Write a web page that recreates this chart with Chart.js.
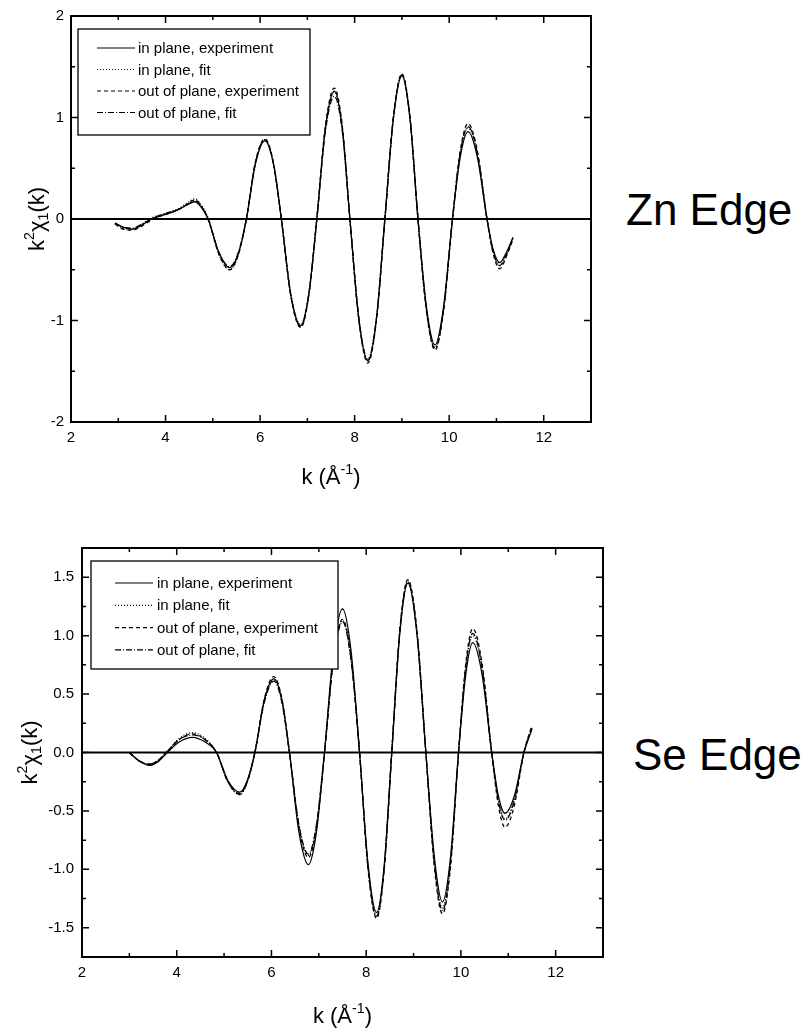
<!DOCTYPE html>
<html>
<head>
<meta charset="utf-8">
<script src="https://cdn.jsdelivr.net/npm/chart.js@4.4.0/dist/chart.umd.min.js"></script>
<style>
    body { margin: 0; background: #fff; width: 811px; height: 1030px; position: relative; overflow: hidden; font-family: "Liberation Sans", Arial, sans-serif; }
    .caixa { position: absolute; }
    .borda { position: absolute; font-size: 44px; line-height: 44px; color: #000; white-space: nowrap; }
</style>
</head>
<body>
<div class="caixa" style="left:0;top:0;width:600px;height:500px"><canvas id="grafico-zn"></canvas></div>
<div class="caixa" style="left:0;top:520px;width:620px;height:510px"><canvas id="grafico-se"></canvas></div>
<div class="borda" style="left:626px;top:188px">Zn Edge</div>
<div class="borda" style="left:633px;top:733px">Se Edge</div>

<script>
// legenda
const rotulos = ['in plane, experiment', 'in plane, fit', 'out of plane, experiment', 'out of plane, fit'];

// eixo x (comum)
const xTicks = [2, 4, 6, 8, 10, 12];
const xMenores = [3, 5, 7, 9, 11];

// Zn edge
const kZn = [2.93, 3.1, 3.3, 3.5, 3.7, 3.9, 4.1, 4.3, 4.5, 4.62, 4.75, 4.9, 5.13, 5.36, 5.54, 5.71, 5.9, 6.1, 6.28, 6.45,
    6.65, 6.86, 7.03, 7.2, 7.38, 7.57, 7.74, 7.9, 8.09, 8.28, 8.46, 8.64, 8.82, 9.0, 9.17, 9.34, 9.52, 9.7, 9.88, 10.07,
    10.23, 10.4, 10.6, 10.8, 10.93, 11.07, 11.2, 11.35];
const znInExp = [-0.04, -0.08, -0.10, -0.06, 0.00, 0.03, 0.06, 0.10, 0.15, 0.17, 0.12, 0.00, -0.33, -0.48, -0.34, 0.00, 0.54, 0.77, 0.55, 0.00,
    -0.75, -1.05, -0.74, 0.00, 0.89, 1.26, 0.89, 0.00, -0.99, -1.40, -0.99, 0.00, 0.99, 1.41, 0.99, 0.00, -0.87, -1.24, -0.87, 0.00,
    0.60, 0.86, 0.60, 0.00, -0.30, -0.43, -0.34, -0.18];
const znInFit = [-0.05, -0.09, -0.10, -0.05, 0.01, 0.04, 0.07, 0.11, 0.17, 0.20, 0.14, 0.01, -0.35, -0.50, -0.35, 0.00, 0.55, 0.78, 0.55, 0.00,
    -0.74, -1.04, -0.73, 0.00, 0.88, 1.25, 0.88, 0.00, -0.98, -1.38, -0.98, 0.00, 1.00, 1.42, 1.00, 0.00, -0.89, -1.27, -0.89, 0.00,
    0.63, 0.90, 0.63, 0.00, -0.32, -0.46, -0.36, -0.19];
const znOutExp = [-0.05, -0.10, -0.11, -0.07, -0.01, 0.03, 0.06, 0.10, 0.16, 0.19, 0.13, 0.00, -0.35, -0.50, -0.35, 0.00, 0.56, 0.79, 0.56, 0.00,
    -0.76, -1.07, -0.75, 0.00, 0.91, 1.29, 0.91, 0.00, -1.00, -1.42, -1.00, 0.00, 1.01, 1.43, 1.01, 0.00, -0.91, -1.29, -0.91, 0.00,
    0.66, 0.94, 0.66, 0.00, -0.34, -0.49, -0.38, -0.20];
const znOutFit = [-0.04, -0.08, -0.09, -0.05, 0.00, 0.04, 0.07, 0.10, 0.15, 0.18, 0.13, 0.00, -0.33, -0.47, -0.33, 0.00, 0.55, 0.78, 0.55, 0.00,
    -0.75, -1.06, -0.75, 0.00, 0.86, 1.21, 0.86, 0.00, -0.98, -1.39, -0.98, 0.00, 1.00, 1.42, 1.00, 0.00, -0.90, -1.27, -0.90, 0.00,
    0.64, 0.91, 0.64, 0.00, -0.32, -0.46, -0.36, -0.19];
const znYTicks = [-2, -1, 0, 1, 2];
const znYRotulos = ['-2', '-1', '0', '1', '2'];
const znYMenores = [-1.5, -0.5, 0.5, 1.5];

// Se edge
const kSe = [3.0, 3.2, 3.42, 3.6, 3.8, 4.05, 4.33, 4.6, 4.84, 5.08, 5.33, 5.49, 5.65, 5.85, 6.05, 6.22, 6.38, 6.58, 6.78, 6.95,
    7.12, 7.31, 7.5, 7.68, 7.86, 8.04, 8.22, 8.38, 8.54, 8.71, 8.88, 9.07, 9.26, 9.44, 9.61, 9.78, 9.95, 10.1, 10.25, 10.45,
    10.65, 10.79, 10.93, 11.13, 11.33, 11.5];
const seInExp = [0.00, -0.07, -0.11, -0.08, 0.00, 0.09, 0.13, 0.09, 0.00, -0.24, -0.34, -0.24, 0.00, 0.45, 0.63, 0.45, 0.00, -0.68, -0.96, -0.68,
    0.00, 0.87, 1.23, 0.87, 0.00, -0.96, -1.37, -0.97, 0.00, 1.02, 1.45, 1.02, 0.00, -0.90, -1.28, -0.90, 0.00, 0.66, 0.94, 0.66,
    0.00, -0.37, -0.52, -0.37, 0.00, 0.20];
const seInFit = [0.00, -0.07, -0.10, -0.07, 0.01, 0.12, 0.17, 0.12, 0.00, -0.25, -0.36, -0.25, 0.00, 0.44, 0.62, 0.44, 0.00, -0.62, -0.88, -0.62,
    0.00, 0.80, 1.13, 0.80, 0.00, -0.99, -1.40, -0.99, 0.00, 1.04, 1.47, 1.04, 0.00, -0.94, -1.33, -0.94, 0.00, 0.71, 1.00, 0.71,
    0.00, -0.40, -0.57, -0.40, 0.00, 0.22];
const seOutExp = [0.00, -0.07, -0.10, -0.07, 0.01, 0.11, 0.16, 0.11, 0.00, -0.25, -0.35, -0.25, 0.00, 0.46, 0.65, 0.46, 0.00, -0.64, -0.90, -0.64,
    0.00, 0.81, 1.14, 0.81, 0.00, -1.00, -1.42, -1.00, 0.00, 1.05, 1.48, 1.05, 0.00, -0.98, -1.38, -0.98, 0.00, 0.75, 1.06, 0.75,
    0.00, -0.45, -0.64, -0.45, 0.00, 0.23];
const seOutFit = [0.00, -0.07, -0.10, -0.07, 0.01, 0.11, 0.15, 0.11, 0.00, -0.25, -0.36, -0.25, 0.00, 0.43, 0.61, 0.43, 0.00, -0.62, -0.87, -0.62,
    0.00, 0.79, 1.12, 0.79, 0.00, -0.99, -1.40, -0.99, 0.00, 1.03, 1.46, 1.03, 0.00, -0.95, -1.35, -0.95, 0.00, 0.72, 1.02, 0.72,
    0.00, -0.41, -0.58, -0.41, 0.00, 0.21];
const seYTicks = [-1.5, -1.0, -0.5, 0, 0.5, 1.0, 1.5];
const seYRotulos = ['-1.5', '-1.0', '-0.5', '0.0', '0.5', '1.0', '1.5'];
const seYMenores = [-1.25, -0.75, -0.25, 0.25, 0.75, 1.25];


const fonte = '"Liberation Sans", Arial, sans-serif';
const tracos = [[], [1, 2], [4, 3], [6, 2, 1, 2]];

function montarSeries(k, series) {
    return series.map(function (ys, i) {
        return {
            label: rotulos[i],
            data: k.map(function (x, j) { return { x: x, y: ys[j] }; }),
            borderColor: '#000',
            borderWidth: 1.3,
            borderDash: tracos[i],
            pointRadius: 0,
            cubicInterpolationMode: 'monotone',
            fill: false
        };
    });
}

// texto com sobrescrito / subscrito
function textoRico(ctx, partes, tamanho, x, y, rot) {
    ctx.save();
    ctx.translate(x, y);
    ctx.rotate(rot);
    ctx.fillStyle = '#000';
    ctx.textBaseline = 'alphabetic';
    var total = 0;
    partes.forEach(function (p) {
        ctx.font = (tamanho * p.e) + 'px ' + fonte;
        total += ctx.measureText(p.t).width;
    });
    var pos = -total / 2;
    partes.forEach(function (p) {
        ctx.font = (tamanho * p.e) + 'px ' + fonte;
        ctx.fillText(p.t, pos, tamanho * 0.35 + p.dy * tamanho);
        pos += ctx.measureText(p.t).width;
    });
    ctx.restore();
}

const tituloX = [{ t: 'k ', e: 1, dy: 0 }, { t: '(Å', e: 1, dy: 0 }, { t: '-1', e: 0.65, dy: -0.42 }, { t: ')', e: 1, dy: 0 }];
const tituloY = [{ t: 'k', e: 1, dy: 0 }, { t: '2', e: 0.65, dy: -0.42 }, { t: 'χ', e: 1, dy: 0 }, { t: '1', e: 0.65, dy: 0.2 }, { t: '(k)', e: 1, dy: 0 }];

const moldura = {
    id: 'moldura',
    beforeDatasetsDraw(chart) {
        const ctx = chart.ctx, a = chart.chartArea;
        const y0 = chart.scales.y.getPixelForValue(0);
        ctx.save();
        ctx.strokeStyle = '#000';
        ctx.lineWidth = 2;
        ctx.beginPath();
        ctx.moveTo(a.left, y0);
        ctx.lineTo(a.right, y0);
        ctx.stroke();
        ctx.restore();
    },
    afterDatasetsDraw(chart, args, op) {
        const ctx = chart.ctx, a = chart.chartArea;
        const sx = chart.scales.x, sy = chart.scales.y;
        ctx.save();
        ctx.strokeStyle = '#000';

        // ticks para dentro nos 4 lados
        ctx.lineWidth = 1.5;
        ctx.beginPath();
        function tickX(v, len) {
            const px = sx.getPixelForValue(v);
            ctx.moveTo(px, a.bottom); ctx.lineTo(px, a.bottom - len);
            ctx.moveTo(px, a.top); ctx.lineTo(px, a.top + len);
        }
        function tickY(v, len) {
            const py = sy.getPixelForValue(v);
            ctx.moveTo(a.left, py); ctx.lineTo(a.left + len, py);
            ctx.moveTo(a.right, py); ctx.lineTo(a.right - len, py);
        }
        xTicks.forEach(function (v) { tickX(v, 7); });
        xMenores.forEach(function (v) { tickX(v, 4); });
        op.yTicks.forEach(function (v) { tickY(v, 7); });
        op.yMenores.forEach(function (v) { tickY(v, 4); });
        ctx.stroke();

        // moldura
        ctx.lineWidth = 2;
        ctx.strokeRect(a.left, a.top, a.right - a.left, a.bottom - a.top);

        // legenda
        const L = op.legenda;
        const bx = a.left + L.dx, by = a.top + L.dy;
        ctx.fillStyle = '#fff';
        ctx.fillRect(bx, by, L.w, L.h);
        ctx.lineWidth = 1.3;
        ctx.strokeRect(bx, by, L.w, L.h);
        ctx.font = '15px ' + fonte;
        ctx.textBaseline = 'middle';
        ctx.fillStyle = '#000';
        chart.data.datasets.forEach(function (ds, i) {
            const ry = by + L.primeira + i * L.passo;
            ctx.setLineDash(ds.borderDash);
            ctx.lineWidth = 1.2;
            ctx.beginPath();
            ctx.moveTo(bx + L.linha0, ry);
            ctx.lineTo(bx + L.linha1, ry);
            ctx.stroke();
            ctx.setLineDash([]);
            ctx.fillText(ds.label, bx + L.texto, ry + 1);
        });
        ctx.restore();

        // titulos dos eixos
        textoRico(ctx, tituloX, 22, (a.left + a.right) / 2, op.tituloXY, 0);
        textoRico(ctx, tituloY, 22, op.tituloYX, (a.top + a.bottom) / 2, -Math.PI / 2);
    }
};

function criarGrafico(id, k, series, yMin, yMax, yTicks, yRotulos, yMenores, layout, extra) {
    return new Chart(document.getElementById(id), {
        type: 'line',
        data: { datasets: montarSeries(k, series) },
        plugins: [moldura],
        options: {
            responsive: true,
            maintainAspectRatio: false,
            animation: false,
            layout: { padding: layout.padding },
            plugins: {
                legend: { display: false },
                tooltip: { enabled: false },
                moldura: extra
            },
            scales: {
                x: {
                    type: 'linear',
                    min: 2,
                    max: 13,
                    afterBuildTicks: function (s) { s.ticks = xTicks.map(function (v) { return { value: v }; }); },
                    afterFit: function (s) { s.height = layout.alturaX; },
                    grid: { display: false, drawTicks: false },
                    border: { display: false },
                    ticks: { color: '#000', font: { family: fonte, size: 15 }, padding: 7, maxRotation: 0, autoSkip: false }
                },
                y: {
                    type: 'linear',
                    min: yMin,
                    max: yMax,
                    afterBuildTicks: function (s) { s.ticks = yTicks.map(function (v) { return { value: v }; }); },
                    afterFit: function (s) { s.width = layout.larguraY; },
                    grid: { display: false, drawTicks: false },
                    border: { display: false },
                    ticks: {
                        color: '#000', font: { family: fonte, size: 15 }, padding: layout.padY, autoSkip: false,
                        callback: function (v, i) { return yRotulos[i]; }
                    }
                }
            }
        }
    });
}

const graficoZn = criarGrafico('grafico-zn', kZn, [znInExp, znInFit, znOutExp, znOutFit], -2, 2, znYTicks, znYRotulos, znYMenores,
    { padding: { top: 10, right: 9, left: 0, bottom: 0 }, alturaX: 78, larguraY: 71, padY: 7 },
    { yTicks: znYTicks, yMenores: znYMenores, tituloXY: 476, tituloYX: 36,
      legenda: { dx: 7, dy: 13, w: 232, h: 106, primeira: 19, passo: 21.5, linha0: 19, linha1: 57, texto: 60 } });

const graficoSe = criarGrafico('grafico-se', kSe, [seInExp, seInFit, seOutExp, seOutFit], -1.75, 1.75, seYTicks, seYRotulos, seYMenores,
    { padding: { top: 28, right: 17, left: 0, bottom: 0 }, alturaX: 73, larguraY: 82, padY: 8 },
    { yTicks: seYTicks, yMenores: seYMenores, tituloXY: 495, tituloYX: 29,
      legenda: { dx: 9, dy: 13, w: 247, h: 108, primeira: 22, passo: 22.3, linha0: 24, linha1: 62, texto: 66 } });
</script>
</body>
</html>
